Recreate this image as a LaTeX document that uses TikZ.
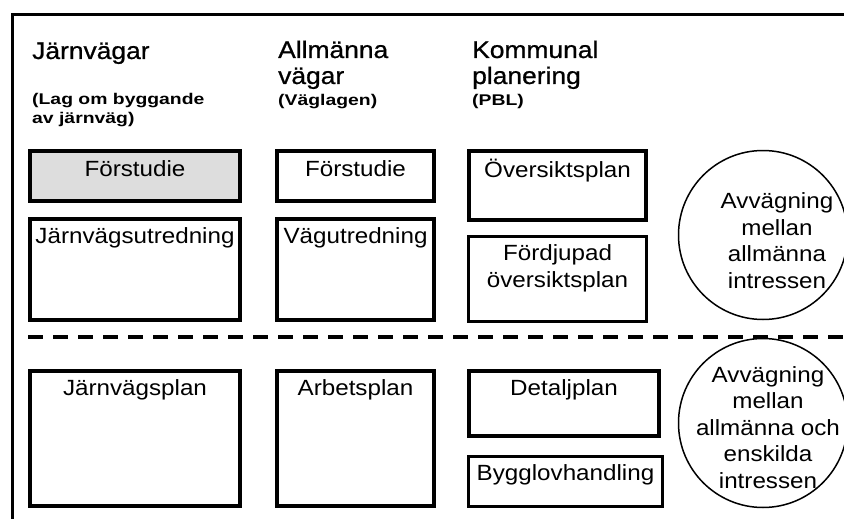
\documentclass[tikz,border=0pt]{standalone}
\usepackage{fontspec}
\setmainfont{Liberation Sans}[FakeStretch=1.1]
\newfontfamily\headfont{Liberation Sans}[FakeStretch=1.1, FakeBold=0.8]
\newfontfamily\subfont{Liberation Sans}[FakeStretch=1.25]
\definecolor{boxgray}{HTML}{DDDDDD}
\tikzset{
  framestyle/.style={line width=3pt, line cap=rect},
  boxthick/.style={rectangle, draw=black, line width=4pt, inner sep=0pt, outer sep=0pt, anchor=north west},
  boxthin/.style={rectangle, draw=black, line width=3pt, inner sep=0pt, outer sep=0pt, anchor=north west},
  head/.style={anchor=base west, inner sep=0pt, font=\headfont\fontsize{24}{28}\selectfont},
  subhead/.style={anchor=base west, inner sep=0pt, font=\subfont\bfseries\fontsize{15.5}{18}\selectfont},
  lbl/.style={anchor=base, inner sep=0pt, font=\fontsize{22}{26}\selectfont},
  balance/.style={circle, draw=black, line width=1.5pt, minimum size=169pt, inner sep=0pt},
  divider/.style={line width=3.5pt, dash pattern=on 15pt off 10pt}
}
\begin{document}
\begin{tikzpicture}[x=1pt,y=-1pt]
\useasboundingbox (0,0) rectangle (844,519);
\clip (0,0) rectangle (844,519);
\fill[white] (0,0) rectangle (844,519);

% frame
\coordinate (frTR) at (850,15);
\coordinate (frTL) at (12,15);
\coordinate (frBL) at (12,525);
\draw[framestyle] (frTR) -- (frTL) -- (frBL);

% headings
\node[head] (h1) at (32,59) {Järnvägar};
\node[subhead] (h1a) at (32,105) {(Lag om byggande};
\node[subhead] (h1b) at (32,123) {av järnväg)};
\node[head] (h2) at (278,58) {Allmänna};
\node[head] (h2a) at (278,84) {vägar};
\node[subhead] (h2b) at (278,106) {(Väglagen)};
\node[head] (h3) at (472,58) {Kommunal};
\node[head] (h3a) at (472,84) {planering};
\node[subhead] (h3b) at (472,106) {(PBL)};

% upper boxes
\node[boxthick, fill=boxgray, minimum width=210pt, minimum height=50pt] (jf) at (30,151) {};
\node[lbl] (jft) at ([yshift=-25pt]jf.north) {Förstudie};
\node[boxthick, minimum width=210pt, minimum height=101pt] (ju) at (30,219) {};
\node[lbl] (jut) at ([yshift=-24pt]ju.north) {Järnvägsutredning};

\node[boxthick, minimum width=157pt, minimum height=50pt] (vf) at (277,151) {};
\node[lbl] (vft) at ([yshift=-25pt]vf.north) {Förstudie};
\node[boxthick, minimum width=157pt, minimum height=101pt] (vu) at (277,219) {};
\node[lbl] (vut) at ([yshift=-24pt]vu.north) {Vägutredning};

\node[boxthick, minimum width=177pt, minimum height=69pt] (op) at (469,151) {};
\node[lbl] (opt) at ([yshift=-26pt]op.north) {Översiktsplan};
\node[boxthin, minimum width=178pt, minimum height=85pt] (fo) at (468.5,236.5) {};
\node[lbl] (fot1) at ([yshift=-23.5pt]fo.north) {Fördjupad};
\node[lbl] (fot2) at ([yshift=-50.5pt]fo.north) {översiktsplan};

% circle 1
\node[balance] (c1) at (763,235) {};
\node[lbl] (c1l1) at (777,208) {Avvägning};
\node[lbl] (c1l2) at (777,235) {mellan};
\node[lbl] (c1l3) at (777,261.5) {allmänna};
\node[lbl] (c1l4) at (777,288) {intressen};

% divider
\coordinate (dvL) at (28,337);
\coordinate (dvR) at (850,337);
\draw[divider] (dvL) -- (dvR);

% lower boxes
\node[boxthick, minimum width=210pt, minimum height=135pt] (jp) at (30,371) {};
\node[lbl] (jpt) at ([yshift=-24pt]jp.north) {Järnvägsplan};
\node[boxthick, minimum width=157pt, minimum height=135pt] (ap) at (277,371) {};
\node[lbl] (apt) at ([yshift=-24pt]ap.north) {Arbetsplan};
\node[boxthick, minimum width=190pt, minimum height=65pt] (dp) at (469,371) {};
\node[lbl] (dpt) at ([yshift=-24pt]dp.north) {Detaljplan};
\node[boxthin, minimum width=194pt, minimum height=50pt] (bl) at (468.5,456.5) {};
\node[lbl] (blt) at ([yshift=-23.5pt]bl.north) {Bygglovhandling};

% circle 2
\node[balance] (c2) at (763,423) {};
\node[lbl] (c2l1) at (768,382) {Avvägning};
\node[lbl] (c2l2) at (768,408.5) {mellan};
\node[lbl] (c2l3) at (768,435) {allmänna och};
\node[lbl] (c2l4) at (768,461.5) {enskilda};
\node[lbl] (c2l5) at (768,488) {intressen};
\end{tikzpicture}
\end{document}
